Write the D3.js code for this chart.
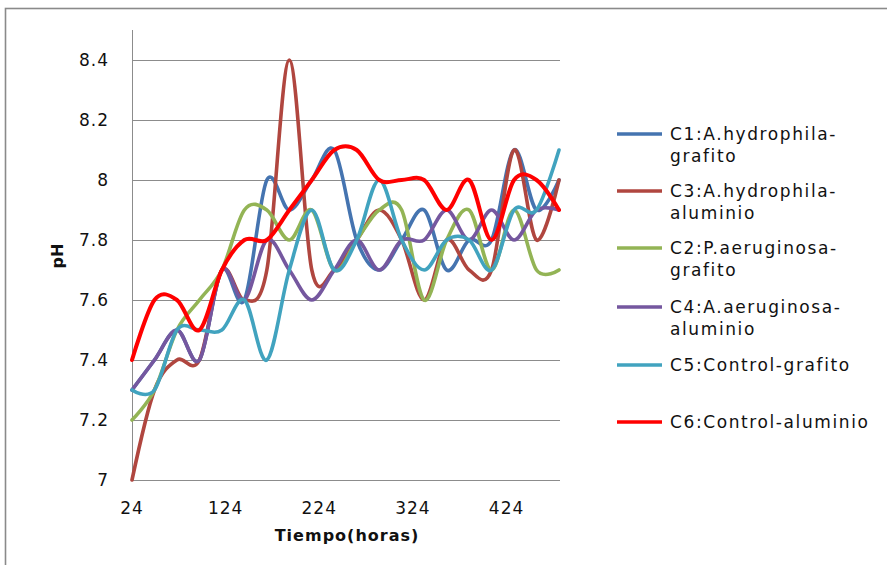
<!DOCTYPE html>
<html>
<head>
<meta charset="utf-8">
<script src="https://cdn.jsdelivr.net/npm/d3@7"></script>
<style>
  html, body { margin: 0; padding: 0; background: #fff; }
  svg { display: block; }
  text { font-family: "DejaVu Sans", sans-serif; fill: #111; }
</style>
</head>
<body>
<svg id="chart" width="887" height="565"></svg>
<script>
// ---- data ----
const hours = [24, 48, 72, 96, 120, 144, 168, 192, 216, 240, 264, 288, 312, 336, 360, 384, 408, 432, 456, 480];
const seriesNames = ["C1:A.hydrophila-grafito", "C3:A.hydrophila-aluminio", "C2:P.aeruginosa-grafito", "C4:A.aeruginosa-aluminio", "C5:Control-grafito", "C6:Control-aluminio"];
const legendLines = [["C1:A.hydrophila-", "grafito"], ["C3:A.hydrophila-", "aluminio"], ["C2:P.aeruginosa-", "grafito"], ["C4:A.aeruginosa-", "aluminio"], ["C5:Control-grafito"], ["C6:Control-aluminio"]];
const c1 = [7.3, 7.4, 7.5, 7.4, 7.7, 7.6, 8.0, 7.9, 8.0, 8.1, 7.8, 7.7, 7.8, 7.9, 7.7, 7.8, 7.8, 8.1, 7.9, 8.0];
const c3 = [7.0, 7.3, 7.4, 7.4, 7.7, 7.6, 7.7, 8.4, 7.7, 7.7, 7.8, 7.9, 7.8, 7.6, 7.8, 7.7, 7.7, 8.1, 7.8, 8.0];
const c2 = [7.2, 7.3, 7.5, 7.6, 7.7, 7.9, 7.9, 7.8, 7.9, 7.7, 7.8, 7.9, 7.9, 7.6, 7.8, 7.9, 7.7, 7.9, 7.7, 7.7];
const c4 = [7.3, 7.4, 7.5, 7.4, 7.7, 7.6, 7.8, 7.7, 7.6, 7.7, 7.8, 7.7, 7.8, 7.8, 7.9, 7.8, 7.9, 7.8, 7.9, 7.9];
const c5 = [7.3, 7.3, 7.5, 7.5, 7.5, 7.6, 7.4, 7.7, 7.9, 7.7, 7.8, 8.0, 7.8, 7.7, 7.8, 7.8, 7.7, 7.9, 7.9, 8.1];
const c6 = [7.4, 7.6, 7.6, 7.5, 7.7, 7.8, 7.8, 7.9, 8.0, 8.1, 8.1, 8.0, 8.0, 8.0, 7.9, 8.0, 7.8, 8.0, 8.0, 7.9];
const seriesValues = [c1, c3, c2, c4, c5, c6];
const colors = ["#4574B0", "#B0463F", "#93B455", "#75579F", "#41A3BF", "#FF0000"];
const xTicks = [24, 124, 224, 324, 424];
const yTicks = [7, 7.2, 7.4, 7.6, 7.8, 8, 8.2, 8.4];
const xTitle = "Tiempo(horas)";
const yTitle = "pH";

// ---- layout ----
const svg = d3.select("#chart");
const plot = { left: 132, right: 559, top: 30, bottom: 480 };
const x = d3.scaleLinear().domain([24, 480]).range([plot.left, plot.right]);
const y = d3.scaleLinear().domain([7, 8.5]).range([plot.bottom, plot.top]);

// outer border
svg.append("rect").attr("x", 5.5).attr("y", 8.5).attr("width", 900).attr("height", 600)
  .attr("fill", "none").attr("stroke", "#8a8a8a").attr("stroke-width", 1.6);

// gridlines
svg.append("g").selectAll("line").data(yTicks.filter(d => d > 7)).join("line")
  .attr("x1", plot.left).attr("x2", plot.right + 1)
  .attr("y1", d => Math.round(y(d)) + 0.5).attr("y2", d => Math.round(y(d)) + 0.5)
  .attr("stroke", "#8c8c8c").attr("stroke-width", 1);

// axes lines
svg.append("line").attr("x1", plot.left + 0.5).attr("x2", plot.left + 0.5)
  .attr("y1", plot.top).attr("y2", plot.bottom).attr("stroke", "#8c8c8c");
svg.append("line").attr("x1", plot.left).attr("x2", plot.right + 1)
  .attr("y1", plot.bottom + 0.5).attr("y2", plot.bottom + 0.5).attr("stroke", "#8c8c8c");

// tick labels
svg.append("g").selectAll("text").data(yTicks).join("text")
  .attr("x", 109).attr("y", d => y(d)).attr("dy", "0.36em")
  .attr("text-anchor", "end").attr("font-size", 17).attr("letter-spacing", 1)
  .text(d => String(+d.toFixed(1)));
svg.append("g").selectAll("text").data(xTicks).join("text")
  .attr("x", d => x(d)).attr("y", 508).attr("dy", "0.36em")
  .attr("text-anchor", "middle").attr("font-size", 17).attr("letter-spacing", 1)
  .text(d => d);

// axis titles
svg.append("text").attr("x", 347).attr("y", 535).attr("dy", "0.36em")
  .attr("text-anchor", "middle").attr("font-size", 16).attr("font-weight", "bold")
  .attr("letter-spacing", 1).text(xTitle);
svg.append("text").attr("transform", "translate(57,256) rotate(-90)").attr("dy", "0.36em")
  .attr("text-anchor", "middle").attr("font-size", 16).attr("font-weight", "bold")
  .text(yTitle);

// lines
const line = d3.line().x((d, i) => x(hours[i])).y(d => y(d)).curve(d3.curveCardinal.tension(0));
svg.append("g").selectAll("path").data(seriesValues).join("path")
  .attr("d", d => line(d)).attr("fill", "none")
  .attr("stroke", (d, i) => colors[i]).attr("stroke-width", (d, i) => i === 5 ? 4 : 3.6)
  .attr("stroke-linejoin", "round").attr("stroke-linecap", "round");

// legend
const legendY = [134, 191, 248, 307, 365, 422];
const lg = svg.append("g").selectAll("g").data(seriesNames).join("g")
  .attr("transform", (d, i) => `translate(617,${legendY[i]})`);
lg.append("line").attr("x1", 0).attr("x2", 45).attr("y1", 0).attr("y2", 0)
  .attr("stroke", (d, i) => colors[i]).attr("stroke-width", 3.5);
lg.each(function(d, i) {
  const g = d3.select(this);
  legendLines[i].forEach((t, k) => {
    g.append("text").attr("x", 53).attr("y", k * 22).attr("dy", "0.36em")
      .attr("font-size", 17).attr("letter-spacing", 1.6).text(t);
  });
});
</script>
</body>
</html>
